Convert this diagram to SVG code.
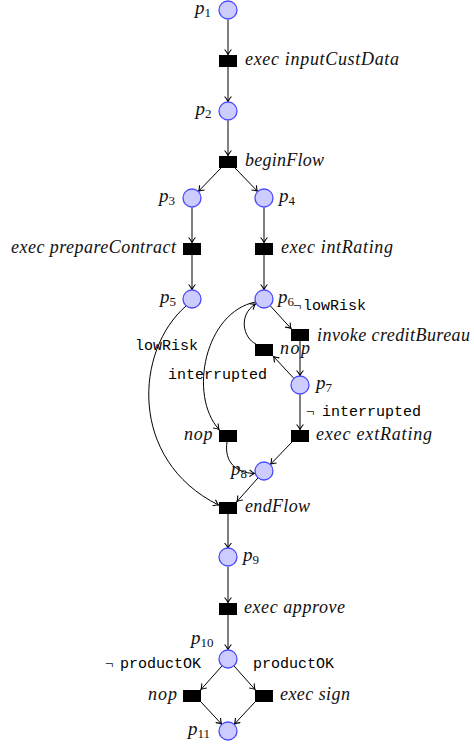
<svg xmlns="http://www.w3.org/2000/svg" width="474" height="744" viewBox="0 0 474 744">
<defs>
<marker id="ah" viewBox="-6 -4 7 8" refX="0" refY="0" markerWidth="7" markerHeight="8" orient="auto" markerUnits="userSpaceOnUse">
<path d="M-5,-3.4 Q-2,-0.8 0,0 Q-2,0.8 -5,3.4" fill="none" stroke="#000" stroke-width="1.1"/>
</marker>
<style>
.pl{fill:#ccccff;stroke:#4a4aff;stroke-width:1.3}
.tr{fill:#000}
.e{fill:none;stroke:#000;stroke-width:1;marker-end:url(#ah)}
.it{font-family:"Liberation Serif",serif;font-style:italic;font-size:18px;fill:#111}
.pv{font-size:19px}
.sub{font-style:normal;font-size:13px}
.mono{font-family:"Liberation Mono",monospace;font-size:15px;fill:#000}
.neg{font-family:"Liberation Serif",serif;font-size:15px;fill:#111}
</style>
</defs>
<rect width="474" height="744" fill="#fff"/>
<g id="connectors">
<path class="e" d="M228,19.5 L228,54.5"/>
<path class="e" d="M228,67 L228,101.5"/>
<path class="e" d="M228,120.5 L228,155.5"/>
<path class="e" d="M221,168 L198.6,191.2"/>
<path class="e" d="M235,168 L257.4,191.2"/>
<path class="e" d="M192,207.5 L192,242.5"/>
<path class="e" d="M264,207.5 L264,242.5"/>
<path class="e" d="M192,255 L192,289.5"/>
<path class="e" d="M264,255 L264,289.5"/>
<path class="e" d="M270.5,306 L291,328.5"/>
<path class="e" d="M300,341 L300,375.5"/>
<path class="e" d="M293.9,378.4 L273.5,356.5"/>
<path class="e" d="M300,394.5 L300,429.5"/>
<path class="e" d="M292,442 L270.6,464.2"/>
<path class="e" d="M258.1,477.8 L237,501.5"/>
<path class="e" d="M228,514 L228,548"/>
<path class="e" d="M228,567 L228,602.5"/>
<path class="e" d="M228,615 L228,649.5"/>
<path class="e" d="M222.1,665.8 L201,689.5"/>
<path class="e" d="M233.9,665.8 L255,689.5"/>
<path class="e" d="M201,702 L221.5,724"/>
<path class="e" d="M255,702 L234.5,724"/>
<path class="e" d="M186,306 C135,350 128,460 218.5,505"/>
<path class="e" d="M255.5,302 C205,312 188,395 219,429.5"/>
<path class="e" d="M256,344 C243,338 238,315 255.5,304"/>
<path class="e" d="M227,442 C224,462 236,473 254.5,473.5"/>
</g>
<g id="edge-labels">
<text class="mono" y="310"><tspan class="neg" x="293">¬</tspan><tspan x="303">lowRisk</tspan></text>
<text class="mono" x="135" y="350">lowRisk</text>
<text class="mono" x="168" y="379">interrupted</text>
<text class="mono" y="416"><tspan class="neg" x="306">¬</tspan><tspan x="322">interrupted</tspan></text>
<text class="mono" y="668"><tspan class="neg" x="105">¬</tspan><tspan x="120">productOK</tspan></text>
<text class="mono" x="253" y="668">productOK</text>
</g>
<g id="p1"><circle class="pl" cx="228" cy="10" r="9"/><text class="it pv" x="211" y="14" text-anchor="end">p<tspan class="sub" dy="3">1</tspan></text></g>
<g id="t-inputCustData"><rect class="tr" x="219" y="55" width="18" height="12"/><text class="it" x="245" y="65" textLength="154" lengthAdjust="spacing">exec inputCustData</text></g>
<g id="p2"><circle class="pl" cx="228" cy="111" r="9"/><text class="it pv" x="211.5" y="115" text-anchor="end">p<tspan class="sub" dy="3">2</tspan></text></g>
<g id="t-beginFlow"><rect class="tr" x="219" y="156" width="18" height="12"/><text class="it" x="245" y="166" textLength="79" lengthAdjust="spacing">beginFlow</text></g>
<g id="p3"><circle class="pl" cx="192" cy="198" r="9"/><text class="it pv" x="175" y="202" text-anchor="end">p<tspan class="sub" dy="3">3</tspan></text></g>
<g id="p4"><circle class="pl" cx="264" cy="198" r="9"/><text class="it pv" x="279" y="202">p<tspan class="sub" dy="3">4</tspan></text></g>
<g id="t-prepareContract"><rect class="tr" x="183" y="243" width="18" height="12"/><text class="it" x="11" y="253" textLength="165" lengthAdjust="spacing">exec prepareContract</text></g>
<g id="t-intRating"><rect class="tr" x="255" y="243" width="18" height="12"/><text class="it" x="281" y="253" textLength="112" lengthAdjust="spacing">exec intRating</text></g>
<g id="p5"><circle class="pl" cx="192" cy="299" r="9"/><text class="it pv" x="176" y="303" text-anchor="end">p<tspan class="sub" dy="3">5</tspan></text></g>
<g id="p6"><circle class="pl" cx="264" cy="299" r="9"/><text class="it pv" x="278" y="303">p<tspan class="sub" dy="3">6</tspan></text></g>
<g id="t-creditBureau"><rect class="tr" x="291" y="329" width="18" height="12"/><text class="it" x="317" y="341" textLength="153" lengthAdjust="spacing">invoke creditBureau</text></g>
<g id="t-nop1"><rect class="tr" x="255" y="344" width="18" height="12"/><text class="it" x="280" y="354" textLength="30" lengthAdjust="spacing">nop</text></g>
<g id="p7"><circle class="pl" cx="300" cy="385" r="9"/><text class="it pv" x="316" y="389">p<tspan class="sub" dy="3">7</tspan></text></g>
<g id="t-nop2"><rect class="tr" x="219" y="430" width="18" height="12"/><text class="it" x="184" y="440" textLength="28.5" lengthAdjust="spacing">nop</text></g>
<g id="t-extRating"><rect class="tr" x="291" y="430" width="18" height="12"/><text class="it" x="316" y="440" textLength="116" lengthAdjust="spacing">exec extRating</text></g>
<g id="p8"><circle class="pl" cx="264" cy="471" r="9"/><text class="it pv" x="231" y="475">p<tspan class="sub" dy="3">8</tspan></text></g>
<g id="t-endFlow"><rect class="tr" x="219" y="502" width="18" height="12"/><text class="it" x="245" y="512" textLength="65" lengthAdjust="spacing">endFlow</text></g>
<g id="p9"><circle class="pl" cx="228" cy="557" r="9"/><text class="it pv" x="243" y="561">p<tspan class="sub" dy="3">9</tspan></text></g>
<g id="t-approve"><rect class="tr" x="219" y="603" width="18" height="12"/><text class="it" x="244" y="613" textLength="101" lengthAdjust="spacing">exec approve</text></g>
<g id="p10"><circle class="pl" cx="228" cy="659" r="9"/><text class="it pv" x="191" y="644">p<tspan class="sub" dy="3">10</tspan></text></g>
<g id="t-nop3"><rect class="tr" x="183" y="690" width="18" height="12"/><text class="it" x="148" y="700" textLength="29" lengthAdjust="spacing">nop</text></g>
<g id="t-sign"><rect class="tr" x="255" y="690" width="18" height="12"/><text class="it" x="280" y="700" textLength="70" lengthAdjust="spacing">exec sign</text></g>
<g id="p11"><circle class="pl" cx="228" cy="731" r="9"/><text class="it pv" x="188" y="735">p<tspan class="sub" dy="3">11</tspan></text></g>
</svg>
